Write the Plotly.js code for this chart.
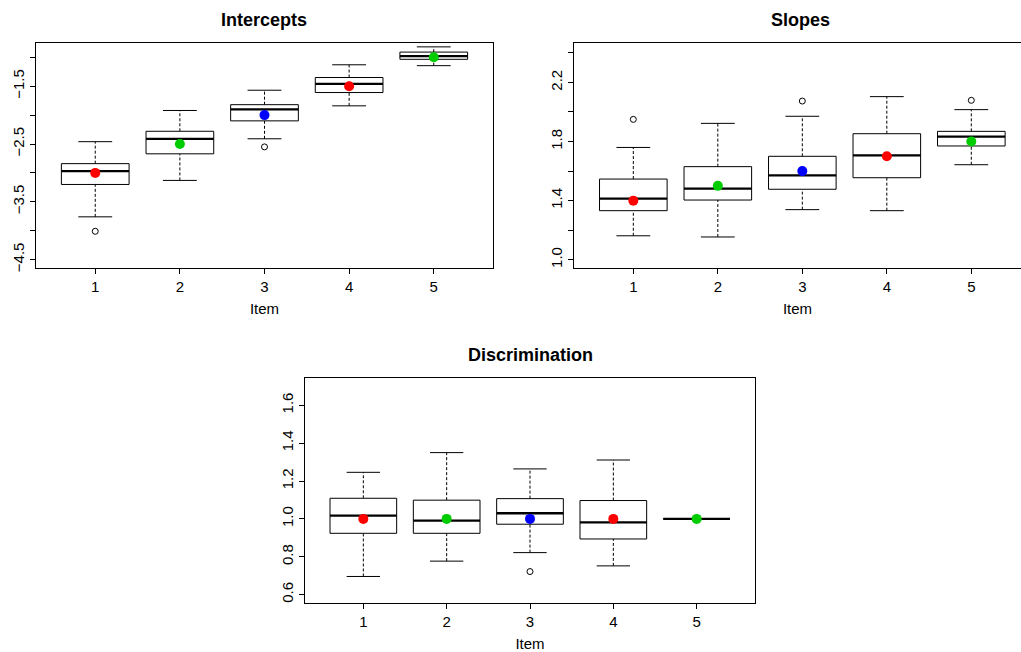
<!DOCTYPE html>
<html>
<head>
<meta charset="utf-8">
<script src="https://cdn.plot.ly/plotly-3.0.1.min.js"></script>
<style>html,body{margin:0;padding:0;background:#fff;}#chart{width:1021px;height:652px;}</style>
</head>
<body>
<div id="chart"></div>
<script>
// ---------------- DATA ----------------
const items = [1, 2, 3, 4, 5];
const itemLabels = ['1', '2', '3', '4', '5'];
const trueColors = ['#FF0000', '#00CD00', '#0000FF', '#FF0000', '#00CD00'];

// Intercepts
const intLower  = [-3.76, -3.13, -2.41, -1.84, -1.145];
const intQ1     = [-3.20, -2.67, -2.10, -1.61, -1.035];
const intMedian = [-2.97, -2.41, -1.90, -1.46, -0.98];
const intQ3     = [-2.84, -2.28, -1.82, -1.35, -0.91];
const intUpper  = [-2.46, -1.92, -1.57, -1.13, -0.82];
const intOutX   = [1, 3];
const intOutY   = [-4.01, -2.55];
const intTrue   = [-3.0, -2.5, -2.0, -1.5, -1.0];
const intTickVals = [-4.5, -4, -3.5, -3, -2.5, -2, -1.5, -1];
const intTickText = ['\u22124.5', '', '\u22123.5', '', '\u22122.5', '', '\u22121.5', ''];

// Slopes
const slpLower  = [1.162, 1.154, 1.339, 1.332, 1.643];
const slpQ1     = [1.332, 1.404, 1.477, 1.555, 1.770];
const slpMedian = [1.413, 1.481, 1.571, 1.707, 1.833];
const slpQ3     = [1.546, 1.630, 1.700, 1.853, 1.869];
const slpUpper  = [1.760, 1.923, 1.971, 2.104, 2.016];
const slpOutX   = [1, 3, 5];
const slpOutY   = [1.95, 2.074, 2.079];
const slpTrue   = [1.4, 1.5, 1.6, 1.7, 1.8];
const slpTickVals = [1.0, 1.2, 1.4, 1.6, 1.8, 2.0, 2.2, 2.4];
const slpTickText = ['1.0', '', '1.4', '', '1.8', '', '2.2', ''];

// Discrimination
const disLower  = [0.696, 0.777, 0.822, 0.752, 1.0];
const disQ1     = [0.924, 0.924, 0.972, 0.894, 1.0];
const disMedian = [1.017, 0.991, 1.030, 0.982, 1.0];
const disQ3     = [1.109, 1.099, 1.107, 1.097, 1.0];
const disUpper  = [1.246, 1.350, 1.264, 1.311, 1.0];
const disOutX   = [3];
const disOutY   = [0.722];
const disTrue   = [1.0, 1.0, 1.0, 1.0, 1.0];
const disTickVals = [0.6, 0.8, 1.0, 1.2, 1.4, 1.6];
const disTickText = ['0.6', '0.8', '1.0', '1.2', '1.4', '1.6'];

const panelTitles = ['Intercepts', 'Slopes', 'Discrimination'];
const xTitle = 'Item';

// ---------------- BUILD ----------------
const FONT = 'Liberation Sans, Arial, Helvetica, sans-serif';
const BOXW = 0.4;    // half box width
const STAPLE = 0.2;  // half staple width

function boxTraces(lo, q1, med, q3, up, outX, outY, truth, xa, ya) {
  const bx = [], by = [], mx = [], my = [], wx = [], wy = [], sx = [], sy = [];
  items.forEach((it, i) => {
    bx.push(it - BOXW, it + BOXW, it + BOXW, it - BOXW, it - BOXW, null);
    by.push(q1[i], q1[i], q3[i], q3[i], q1[i], null);
    mx.push(it - BOXW, it + BOXW, null);
    my.push(med[i], med[i], null);
    wx.push(it, it, null, it, it, null);
    wy.push(lo[i], q1[i], null, q3[i], up[i], null);
    sx.push(it - STAPLE, it + STAPLE, null, it - STAPLE, it + STAPLE, null);
    sy.push(lo[i], lo[i], null, up[i], up[i], null);
  });
  const common = {xaxis: xa, yaxis: ya, hoverinfo: 'skip', showlegend: false};
  return [
    Object.assign({type: 'scatter', mode: 'lines', x: wx, y: wy, line: {color: '#000', width: 1, dash: '3px,2px'}}, common),
    Object.assign({type: 'scatter', mode: 'lines', x: sx, y: sy, line: {color: '#000', width: 1}}, common),
    Object.assign({type: 'scatter', mode: 'lines', x: bx, y: by, fill: 'toself', fillcolor: '#fff', line: {color: '#000', width: 1}}, common),
    Object.assign({type: 'scatter', mode: 'lines', x: mx, y: my, line: {color: '#000', width: 2.3}}, common),
    Object.assign({type: 'scatter', mode: 'markers', x: outX, y: outY, marker: {symbol: 'circle-open', size: 6, color: '#000', line: {width: 1}}}, common),
    Object.assign({type: 'scatter', mode: 'markers', x: items, y: truth, marker: {symbol: 'circle', size: 10, color: trueColors}}, common)
  ];
}

const data = [].concat(
  boxTraces(intLower, intQ1, intMedian, intQ3, intUpper, intOutX, intOutY, intTrue, 'x', 'y'),
  boxTraces(slpLower, slpQ1, slpMedian, slpQ3, slpUpper, slpOutX, slpOutY, slpTrue, 'x2', 'y2'),
  boxTraces(disLower, disQ1, disMedian, disQ3, disUpper, disOutX, disOutY, disTrue, 'x3', 'y3')
);

const W = 1021, H = 652;
const px = v => v / W;
const py = v => 1 - v / H;

function xAxis(domain, range, anchor, mirror) {
  return {
    domain: domain, range: range, anchor: anchor,
    tickvals: items, ticktext: itemLabels,
    ticks: 'outside', ticklen: 5, tickcolor: '#000', tickwidth: 1,
    showline: true, mirror: mirror, linecolor: '#000', linewidth: 1,
    showgrid: false, zeroline: false,
    tickfont: {family: FONT, size: 15, color: '#000'},
    title: {text: xTitle, font: {family: FONT, size: 15, color: '#000'}, standoff: 9}
  };
}
function yAxis(domain, range, anchor, tv, tt, mirror) {
  return {
    domain: domain, range: range, anchor: anchor,
    tickvals: tv, ticktext: tt, tickangle: -90,
    ticks: 'outside', ticklen: 5, tickcolor: '#000', tickwidth: 1,
    showline: true, mirror: mirror, linecolor: '#000', linewidth: 1,
    showgrid: false, zeroline: false,
    tickfont: {family: FONT, size: 15, color: '#000'}
  };
}

const layout = {
  width: W, height: H,
  margin: {l: 0, r: 0, t: 0, b: 0},
  paper_bgcolor: '#fff', plot_bgcolor: '#fff',
  showlegend: false,
  font: {family: FONT, color: '#000'},
  xaxis:  xAxis([px(36), px(493)], [0.3, 5.7], 'y', true),
  yaxis:  yAxis([py(268), py(43)], [-4.645, -0.753], 'x', intTickVals, intTickText, true),
  xaxis2: xAxis([px(574), 1], [0.298, 5.588], 'y2', true),
  yaxis2: yAxis([py(268), py(43)], [0.944, 2.467], 'x2', slpTickVals, slpTickText, false),
  xaxis3: xAxis([px(305), px(755)], [0.3, 5.7], 'y3', true),
  yaxis3: yAxis([py(603), py(378)], [0.556, 1.744], 'x3', disTickVals, disTickText, true),
  annotations: [
    {text: '<b>' + panelTitles[0] + '</b>', xref: 'paper', yref: 'paper', x: px(264), y: py(20), showarrow: false, xanchor: 'center', yanchor: 'middle', font: {family: FONT, size: 18, color: '#000'}},
    {text: '<b>' + panelTitles[1] + '</b>', xref: 'paper', yref: 'paper', x: px(800), y: py(20), showarrow: false, xanchor: 'center', yanchor: 'middle', font: {family: FONT, size: 18, color: '#000'}},
    {text: '<b>' + panelTitles[2] + '</b>', xref: 'paper', yref: 'paper', x: px(530), y: py(355), showarrow: false, xanchor: 'center', yanchor: 'middle', font: {family: FONT, size: 18, color: '#000'}}
  ]
};

Plotly.newPlot('chart', data, layout, {displayModeBar: false, staticPlot: true});
</script>
</body>
</html>
